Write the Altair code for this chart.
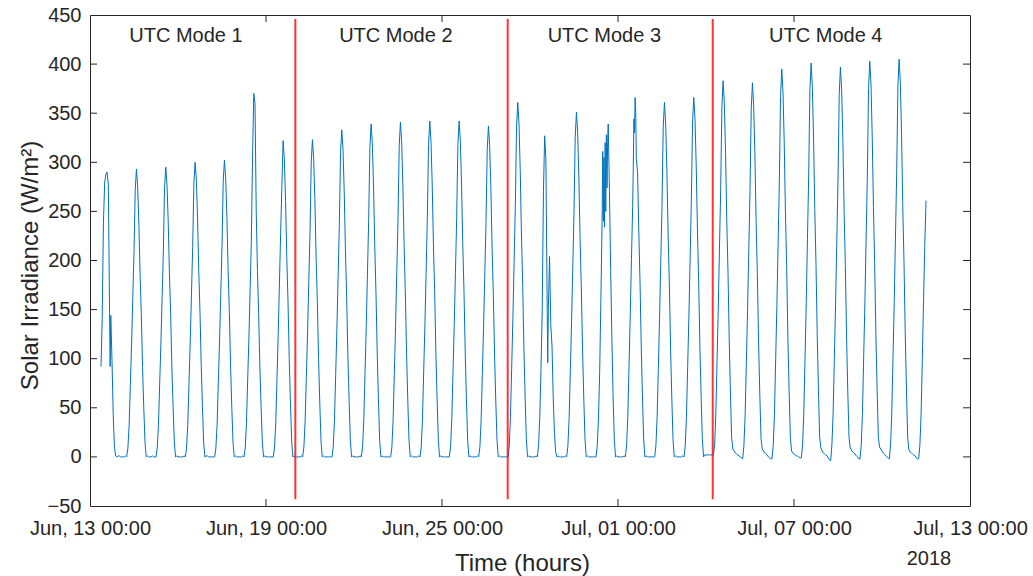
import altair as alt
import pandas as pd

FONT = "Liberation Sans"
TXT = "#262626"

START = "2018-06-13T00:00:00"

# Hourly irradiance (W/m^2), one row per day (hours 0..23), None = no data
HOURLY = [
    [None] * 9 + [92, 142, 239, 279, 288, 290, 277, 147, 144, 98, 42, 10, 1, 0, 1],            # Jun 13
    [1, 0, 0, 0, 0, 1, 0, 9, 32, 73, 114, 161, 208, 272, 293, 275, 237, 185, 144, 91, 50, 15, 0, 1],
    [0, 0, 0, 1, 0, 0, 0, 9, 32, 74, 115, 162, 209, 274, 295, 277, 239, 186, 145, 91, 50, 15, 0, 1],
    [0, 0, 0, 0, 0, 1, 0, 9, 33, 75, 117, 165, 213, 279, 300, 282, 243, 189, 147, 93, 51, 15, 0, 1],
    [1, 0, 0, 0, 0, 0, 0, 9, 33, 76, 118, 166, 214, 281, 302, 284, 245, 190, 148, 94, 51, 15, 0, 1],
    [0, 0, 0, 0, 0, 1, 0, 9, 34, 78, 120, 170, 220, 306, 370, 360, 250, 190, 145, 92, 50, 15, 0, 1],
    [0, 0, 0, 0, 0, 0, 0, 10, 35, 80, 126, 177, 229, 276, 322, 303, 261, 203, 158, 100, 55, 16, 0, 1],
    [0, 0, 0, 0, 0, 1, 0, 10, 36, 81, 126, 178, 229, 300, 323, 304, 262, 203, 158, 100, 55, 16, 0, 1],  # Jun 20
    [0, 0, 0, 0, 0, 0, 0, 10, 37, 83, 130, 183, 236, 310, 333, 313, 270, 210, 163, 103, 57, 17, 0, 1],
    [0, 0, 0, 0, 0, 1, 0, 10, 37, 85, 132, 186, 241, 315, 339, 319, 275, 214, 166, 105, 58, 17, 0, 1],
    [0, 0, 0, 0, 0, 0, 0, 10, 38, 85, 133, 188, 242, 317, 341, 321, 276, 215, 167, 106, 58, 17, 0, 1],
    [0, 0, 0, 0, 0, 1, 0, 10, 38, 86, 133, 188, 243, 318, 342, 321, 277, 215, 168, 106, 58, 17, 0, 1],
    [0, 0, 0, 0, 0, 0, 0, 10, 38, 86, 134, 188, 243, 318, 342, 322, 277, 216, 168, 106, 58, 17, 0, 1],
    [0, 0, 0, 0, 0, 1, 0, 10, 37, 84, 131, 185, 239, 313, 337, 317, 273, 212, 165, 104, 57, 17, 0, 1],
    [0, 0, 0, 0, 0, 0, 0, 11, 40, 90, 141, 199, 256, 336, 361, 339, 292, 227, 177, 112, 61, 18, 0, 1],  # Jun 27
    [0, 0, 0, 0, 0, 1, 0, 12, 40, 90, 150, 270, 327, 303, 160, 150, 204, 135, 113, 60, 25, 5, 0, 1],
    [0, 0, 0, 0, 0, 1, 0, 11, 39, 88, 137, 193, 249, 326, 351, 330, 284, 221, 172, 109, 60, 18, 0, 1],
    [0, 0, 0, 0, 0, 0, 0, 11, 38, 86, 160, 242, 240, 234, 250, 274, 339, 270, 190, 120, 60, 17, 0, 1],
    [0, 0, 0, 0, 0, 1, 0, 11, 40, 92, 143, 201, 255, 344, 366, 303, 290, 231, 179, 113, 62, 18, 0, 1],  # Jul 1
    [0, 0, 0, 0, 0, 0, 0, 11, 40, 90, 141, 199, 256, 336, 361, 339, 292, 227, 177, 112, 61, 18, 0, 1],
    [0, 0, 0, 0, 0, 1, 0, 11, 40, 92, 143, 201, 260, 340, 366, 344, 296, 231, 179, 113, 62, 18, 0, 2],
    [2, 2, 2, 2, 2, 2, 2, 11, 42, 96, 149, 211, 272, 356, 383, 360, 310, 241, 188, 119, 65, 19, 8, 6],  # Jul 4
    [4, 3, 2, 1, 0, -1, -2, 11, 42, 95, 149, 210, 271, 354, 381, 358, 309, 240, 187, 118, 65, 19, 8, 6],
    [4, 3, 2, 0, -1, -2, -2, 12, 43, 99, 154, 217, 280, 367, 395, 371, 320, 249, 194, 122, 67, 20, 6, 4],
    [3, 2, 1, 1, 0, -1, -1, 12, 44, 100, 156, 221, 285, 373, 401, 377, 325, 253, 196, 124, 68, 20, 9, 6],
    [4, 3, 2, 1, -1, -3, -4, 12, 44, 99, 155, 218, 282, 369, 397, 373, 322, 250, 195, 123, 67, 20, 9, 7],
    [5, 4, 3, 1, 0, -2, -2, 12, 44, 101, 157, 222, 286, 375, 403, 379, 326, 254, 197, 125, 69, 20, 10, 8],
    [6, 4, 3, 1, 0, -1, -2, 12, 45, 101, 158, 223, 288, 377, 405, 381, 328, 255, 198, 126, 69, 20, 7, 5],
    [4, 3, 2, 1, -1, -2, -2, 12, 44, 100, 160, 215, 261] + [None] * 11,                           # Jul 11
]

# Extra half-hour samples on cloudy days
EXTRA_TIMES = [
    "2018-06-13T16:30:00",
    "2018-06-28T14:30:00",
    "2018-06-30T11:30:00", "2018-06-30T12:30:00", "2018-06-30T13:30:00",
    "2018-06-30T14:30:00", "2018-06-30T15:30:00",
    "2018-07-01T12:30:00", "2018-07-01T13:30:00", "2018-07-01T14:30:00",
]
EXTRA_VALUES = [92, 96, 311, 305, 320, 328, 320, 293, 330, 351]

MODE_LINE_TIMES = ["2018-06-20T00:00:00", "2018-06-27T05:45:00", "2018-07-04T05:30:00"]
MODE_LINE_BOTTOM = -43
MODE_LINE_TOP = 446

MODE_LABELS = ["UTC Mode 1", "UTC Mode 2", "UTC Mode 3", "UTC Mode 4"]
MODE_LABEL_TIMES = ["2018-06-16T06:30:00", "2018-06-23T10:15:00",
                    "2018-06-30T12:50:00", "2018-07-08T02:00:00"]
MODE_LABEL_Y = 423

X_TICK_DAYS = [(6, 13), (6, 19), (6, 25), (7, 1), (7, 7), (7, 13)]
Y_TICKS = list(range(-50, 451, 50))

# ---- build tables ----
t0 = pd.Timestamp(START)
rows = []
for d, row in enumerate(HOURLY):
    for h, v in enumerate(row):
        if v is not None:
            rows.append({"t": t0 + pd.Timedelta(days=d, hours=h), "v": v})
for t, v in zip(EXTRA_TIMES, EXTRA_VALUES):
    rows.append({"t": pd.Timestamp(t), "v": v})
df = pd.DataFrame(rows).sort_values("t").reset_index(drop=True)

modes_df = pd.DataFrame({"t": pd.to_datetime(MODE_LINE_TIMES),
                         "y1": [MODE_LINE_BOTTOM] * 3, "y2": [MODE_LINE_TOP] * 3})
labels_df = pd.DataFrame({"t": pd.to_datetime(MODE_LABEL_TIMES),
                          "y": [MODE_LABEL_Y] * 4, "label": MODE_LABELS})
xt_df = pd.DataFrame({"t": [pd.Timestamp(2018, m, d) for m, d in X_TICK_DAYS[1:-1]]})
yt_df = pd.DataFrame({"v": [v for v in Y_TICKS if -50 < v < 450]})

W, H = 880, 491
x_dates = [alt.DateTime(year=2018, month=m, date=d) for m, d in X_TICK_DAYS]
x_scale = alt.Scale(domain=[x_dates[0], x_dates[-1]])
y_scale = alt.Scale(domain=[-50, 450], nice=False, zero=False)

x_enc = alt.X("t:T", scale=x_scale, axis=alt.Axis(
    values=x_dates, format="%b, %d %H:%M", title="Time (hours)",
    labelFlush=False, labelOverlap=False, labelPadding=12,
    titleX=432, titleY=57, titleBaseline="middle", titleAlign="center"))
y_enc = alt.Y("v:Q", scale=y_scale, axis=alt.Axis(
    values=Y_TICKS, title="Solar Irradiance (W/m²)", labelPadding=9,
    titleX=-60, titleY=250, titleBaseline="middle", titleAngle=-90))

line = alt.Chart(df).mark_line(color="#0072BD", strokeWidth=1, clip=True).encode(x=x_enc, y=y_enc)

red = alt.Chart(modes_df).mark_rule(color="#ff0000", strokeWidth=2, opacity=0.8).encode(
    x=alt.X("t:T", scale=x_scale), y=alt.Y("y1:Q", scale=y_scale), y2="y2:Q")

texts = alt.Chart(labels_df).mark_text(font=FONT, fontSize=20, color=TXT, baseline="alphabetic",
                                       align="center").encode(
    x=alt.X("t:T", scale=x_scale), y=alt.Y("y:Q", scale=y_scale), text="label:N")

TL = 7
tick_b = alt.Chart(xt_df).mark_rule(color=TXT, strokeWidth=1).encode(
    x=alt.X("t:T", scale=x_scale), y=alt.value(H), y2=alt.value(H - TL))
tick_t = alt.Chart(xt_df).mark_rule(color=TXT, strokeWidth=1).encode(
    x=alt.X("t:T", scale=x_scale), y=alt.value(0), y2=alt.value(TL))
tick_l = alt.Chart(yt_df).mark_rule(color=TXT, strokeWidth=1).encode(
    y=alt.Y("v:Q", scale=y_scale), x=alt.value(0), x2=alt.value(TL))
tick_r = alt.Chart(yt_df).mark_rule(color=TXT, strokeWidth=1).encode(
    y=alt.Y("v:Q", scale=y_scale), x=alt.value(W), x2=alt.value(W - TL))

year = alt.Chart(pd.DataFrame({"s": ["2018"]})).mark_text(
    font=FONT, fontSize=20, color=TXT, align="center", baseline="middle").encode(
    text="s:N", x=alt.value(839), y=alt.value(544))

chart = alt.layer(line, red, texts, tick_b, tick_t, tick_l, tick_r, year).properties(
    width=W, height=H,
    autosize=alt.AutoSizeParams(type="none"),
    padding={"left": 90, "top": 15, "right": 63, "bottom": 70},
    background="white",
).configure_view(stroke=TXT, strokeWidth=1).configure_axis(
    labelFont=FONT, labelFontSize=20, labelColor=TXT,
    titleFont=FONT, titleFontSize=24, titleColor=TXT, titleFontWeight="normal",
    ticks=False, domain=False, grid=False,
)

chart.save("out.html", embed_options={"renderer": "svg", "actions": False})
